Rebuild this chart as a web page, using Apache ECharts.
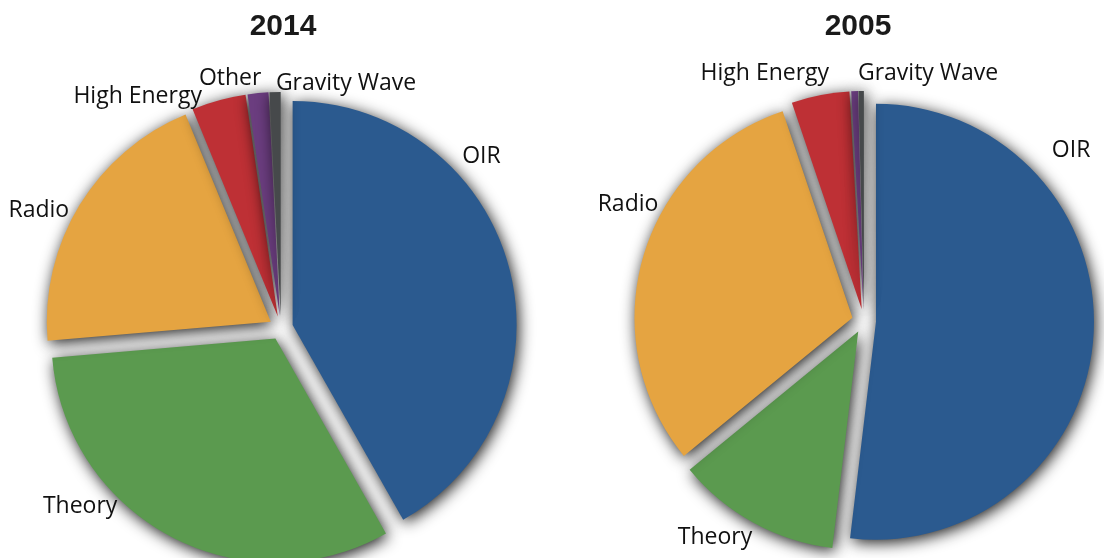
<!DOCTYPE html>
<html>
<head>
<meta charset="utf-8">
<script src="https://cdn.jsdelivr.net/npm/echarts@6/dist/echarts.min.js"></script>
<style>
html,body{margin:0;padding:0;background:#fff;}
#chart{width:1104px;height:558px;}
</style>
</head>
<body>
<div id="chart"></div>
<script>
// ---- data ----
const titles = ['2014', '2005'];
const categories2014 = ['OIR', 'Theory', 'Radio', 'High Energy', 'Other', 'Gravity Wave'];
const values2014 = [41.7, 31.8, 20.1, 3.9, 1.5, 0.8];
const categories2005 = ['OIR', 'Theory', 'Radio', 'High Energy', 'Other', 'Gravity Wave'];
const values2005 = [52.0, 12.2, 30.8, 4.3, 0.5, 0.4];
const hiddenLabels2005 = ['Other'];

// ---- styling / layout ----
const colorMap = {
  'OIR': '#2b5a8f',
  'Theory': '#5b9a4f',
  'Radio': '#e5a441',
  'High Energy': '#be3035',
  'Other': '#6b3d7f',
  'Gravity Wave': '#46494b'
};
const pies = [
  { center: [281, 328], radius: 224, cats: categories2014, vals: values2014, hidden: [],
    // label placement: [angle clockwise from top (deg), distance from centre]
    labelPolar: [[49.4, 264], [228.3, 269], [295.8, 269], [328.2, 272], [348.5, 255], [14.9, 253]] },
  { center: [864, 321], radius: 218, cats: categories2005, vals: values2005, hidden: hiddenLabels2005,
    labelPolar: [[50.6, 268], [214.5, 263], [296.2, 263], [338.2, 267], [0, 0], [14.5, 256]] }
];

function buildData(p) {
  return p.cats.map((c, i) => ({
    name: c,
    value: p.vals[i],
    selected: true,
    itemStyle: { color: colorMap[c] }
  }));
}

const chart = echarts.init(document.getElementById('chart'), null, { renderer: 'canvas' });

const itemStyle = {
  shadowBlur: 15,
  shadowColor: 'rgba(0,0,0,0.9)',
  shadowOffsetX: 2,
  shadowOffsetY: 3,
  borderWidth: 0
};

const series = pies.map((p) => ({
  type: 'pie',
  center: p.center,
  radius: p.radius,
  startAngle: 90,
  clockwise: true,
  selectedMode: 'multiple',
  selectedOffset: 12,
  animation: false,
  silent: true,
  data: buildData(p),
  itemStyle: itemStyle,
  emphasis: { disabled: true, scale: false },
  select: { itemStyle: itemStyle },
  label: { show: false },
  labelLine: { show: false }
}));

// category labels placed around each pie
const graphics = [];
pies.forEach((p) => {
  p.cats.forEach((c, i) => {
    if (p.hidden.includes(c)) return;
    const lp = p.labelPolar[i];
    const a = lp[0] * Math.PI / 180;
    graphics.push({
      type: 'text',
      silent: true,
      x: p.center[0] + lp[1] * Math.sin(a),
      y: p.center[1] - lp[1] * Math.cos(a),
      z: 10,
      style: {
        text: c,
        fontFamily: 'Open Sans',
        fontSize: 23,
        fill: '#111111',
        align: 'center',
        verticalAlign: 'middle'
      }
    });
  });
});

chart.setOption({
  animation: false,
  backgroundColor: '#ffffff',
  title: [
    { text: titles[0], left: 278, top: 7, textAlign: 'center',
      textStyle: { fontFamily: 'Liberation Sans', fontWeight: 'bold', fontSize: 30, color: '#1a1a1a' } },
    { text: titles[1], left: 853, top: 7, textAlign: 'center',
      textStyle: { fontFamily: 'Liberation Sans', fontWeight: 'bold', fontSize: 30, color: '#1a1a1a' } }
  ],
  series: series,
  graphic: graphics
});
</script>
</body>
</html>
